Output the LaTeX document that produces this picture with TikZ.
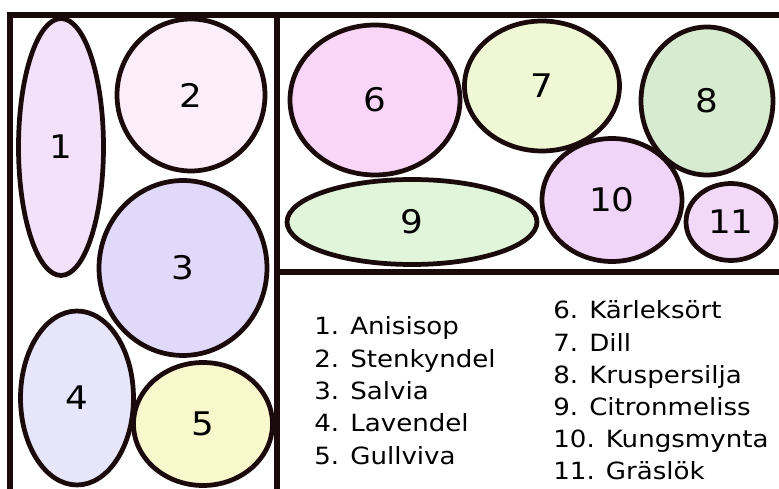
\documentclass[tikz,border=0pt]{standalone}
\usepackage{fontspec}
\setmainfont{DejaVu Sans}[FakeStretch=1.1]
\usetikzlibrary{shapes.geometric}

\definecolor{edge}{HTML}{1A0A0C}
\definecolor{anis}{HTML}{F3E1F9}
\definecolor{sten}{HTML}{FBEEFA}
\definecolor{salv}{HTML}{E1D9F9}
\definecolor{lave}{HTML}{E7E5F9}
\definecolor{gull}{HTML}{F9F7CC}
\definecolor{karl}{HTML}{F9D6F8}
\definecolor{dill}{HTML}{EFF7D5}
\definecolor{krus}{HTML}{D7EBD0}
\definecolor{citr}{HTML}{E1F5DB}
\definecolor{kung}{HTML}{F1D5F8}
\definecolor{gras}{HTML}{F2D9F8}

\begin{document}
\begin{tikzpicture}[
	x=0.02cm, y=-0.02cm,
	plant/.style={
		draw=edge, line width=2.7pt, ellipse, inner sep=0pt,
		font=\fontsize{18.5}{20}\selectfont
	},
	bed/.style={draw=edge, line width=2.9pt},
	leg/.style={anchor=base west, inner sep=0pt, font=\fontsize{13.5}{16}\selectfont},
	]
	
	\useasboundingbox (0,0) rectangle (779,489);
	
	% beds
	\draw[bed] (10,489) -- (10,15) -- (779,15);
	\draw[bed] (277,15) -- (277,489);
	\draw[bed] (277,272) -- (779,272);
	
	\node[plant, fill=anis, minimum width=1.70cm, minimum height=5.14cm] (anisisop)   at (61,147)  {1};
	\node[plant, fill=sten, minimum width=2.96cm, minimum height=3.04cm] (stenkyndel) at (191,95)  {2};
	\node[plant, fill=salv, minimum width=3.36cm, minimum height=3.50cm] (salvia)     at (183,268) {3};
	\node[plant, fill=lave, minimum width=2.26cm, minimum height=3.48cm] (lavendel)   at (77,398)  {4};
	\node[plant, fill=gull, minimum width=2.78cm, minimum height=2.46cm] (gullviva)   at (203,424) {5};
	
	\node[plant, fill=karl, minimum width=3.40cm, minimum height=3.00cm] (karleksort)  at (375,100) {6};
	\node[plant, fill=dill, minimum width=3.10cm, minimum height=2.60cm] (dill)        at (542,86)  {7};
	\node[plant, fill=krus, minimum width=2.64cm, minimum height=2.96cm] (kruspersilja) at (707,101) {8};
	\node[plant, fill=citr, minimum width=5.00cm, minimum height=1.70cm] (citronmeliss) at (412,222) {9};
	\node[plant, fill=kung, minimum width=2.80cm, minimum height=2.46cm] (kungsmynta)  at (612,200) {10};
	\node[plant, fill=gras, minimum width=1.80cm, minimum height=1.54cm] (graslok)     at (731,222) {11};
	
	% legend
	\node[leg] (leg1) at (314,335)   {1. Anisisop};
	\node[leg] (leg2) at (314,367.3) {2. Stenkyndel};
	\node[leg] (leg3) at (314,399.6) {3. Salvia};
	\node[leg] (leg4) at (314,431.9) {4. Lavendel};
	\node[leg] (leg5) at (314,464.2) {5. Gullviva};
	
	\node[leg] (leg6)  at (553,319)   {6. Kärleksört};
	\node[leg] (leg7)  at (553,351.2) {7. Dill};
	\node[leg] (leg8)  at (553,383.4) {8. Kruspersilja};
	\node[leg] (leg9)  at (553,415.6) {9. Citronmeliss};
	\node[leg] (leg10) at (553,447.8) {10. Kungsmynta};
	\node[leg] (leg11) at (553,480)   {11. Gräslök};
	
\end{tikzpicture}
\end{document}
